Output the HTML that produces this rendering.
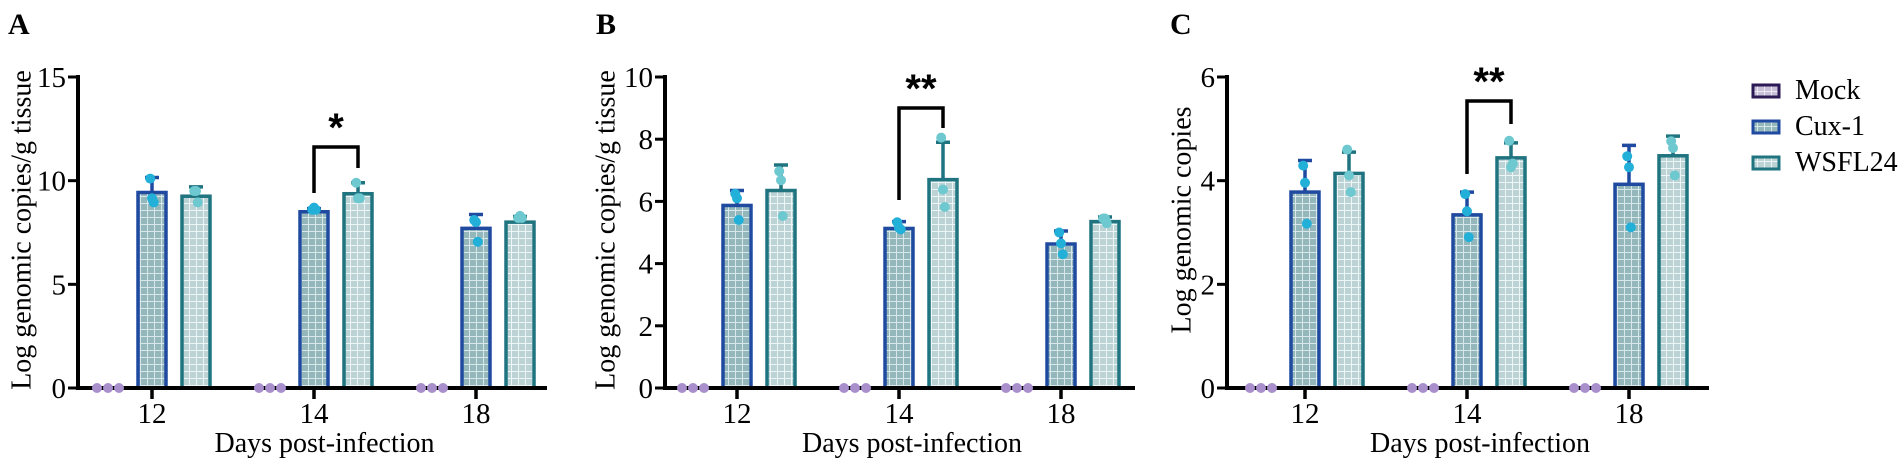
<!DOCTYPE html>
<html><head><meta charset="utf-8">
<style>
html,body{margin:0;padding:0;background:#fff;}
svg{display:block;font-family:"Liberation Serif",serif;}
</style></head>
<body>
<svg id="fig" width="1902" height="467" viewBox="0 0 1902 467" xmlns="http://www.w3.org/2000/svg">
<defs>
<pattern id="gridCux" width="7" height="7" patternUnits="userSpaceOnUse">
<rect width="7" height="7" fill="#93b7bb"/>
<path d="M0 0.5H7M0.5 0V7" stroke="#d8e8ea" stroke-width="1"/>
</pattern>
<pattern id="gridWs" width="7" height="7" patternUnits="userSpaceOnUse">
<rect width="7" height="7" fill="#bcd3d5"/>
<path d="M0 0.5H7M0.5 0V7" stroke="#eef5f6" stroke-width="1"/>
</pattern>
<pattern id="gridMock" width="7" height="7" patternUnits="userSpaceOnUse">
<rect width="7" height="7" fill="#c8c0d8"/>
<path d="M0 0.5H7M0.5 0V7" stroke="#eeeaf4" stroke-width="1"/>
</pattern>
</defs>
<g id="panels"></g>
<g>
<g>
<rect x="1753" y="85" width="26" height="12" fill="url(#gridMock)" stroke="#2b1a55" stroke-width="3"/>
<text x="1795" y="99" font-size="28">Mock</text></g>
<g>
<rect x="1753" y="121" width="26" height="12" fill="url(#gridCux)" stroke="#1f4aa0" stroke-width="3"/>
<text x="1795" y="135" font-size="28">Cux-1</text></g>
<g>
<rect x="1753" y="157" width="26" height="12" fill="url(#gridWs)" stroke="#1f7480" stroke-width="3"/>
<text x="1795" y="171" font-size="28">WSFL24</text></g>
</g>
</svg>
<script>
const categories = ["12","14","18"];
// Panel A
const aCuxMean = [9.43, 8.5, 7.7];
const aCuxErr = [10.15, 8.65, 8.37];
const aCuxPts = [[10.1, 9.15, 8.95],[8.6, 8.7, 8.6],[8.1, 8.0, 7.05]];
const aWsMean = [9.25, 9.37, 8.0];
const aWsErr = [9.7, 9.9, 8.27];
const aWsPts = [[9.5, 9.5, 8.95],[9.9, 9.15, 9.15],[8.2, 8.3, 8.2]];
const aTicks = [0, 5, 10, 15];
// Panel B
const bCuxMean = [5.87, 5.13, 4.63];
const bCuxErr = [6.35, 5.35, 5.05];
const bCuxPts = [[6.25, 6.1, 5.4],[5.33, 5.15, 5.1],[5.0, 4.65, 4.3]];
const bWsMean = [6.35, 6.7, 5.35];
const bWsErr = [7.17, 7.9, 5.5];
const bWsPts = [[6.97, 6.68, 5.53],[8.05, 6.38, 5.82],[5.45, 5.45, 5.3]];
const bTicks = [0, 2, 4, 6, 8, 10];
// Panel C
const cCuxMean = [3.78, 3.34, 3.93];
const cCuxErr = [4.39, 3.78, 4.68];
const cCuxPts = [[4.29, 3.96, 3.17],[3.74, 3.41, 2.91],[4.47, 4.26, 3.1]];
const cWsMean = [4.14, 4.44, 4.48];
const cWsErr = [4.55, 4.73, 4.86];
const cWsPts = [[4.6, 4.1, 3.78],[4.77, 4.26, 4.33],[4.76, 4.63, 4.1]];
const cTicks = [0, 2, 4, 6];
const mockVals = [0, 0, 0];

const NS = "http://www.w3.org/2000/svg";
function mk(tag, attrs, parent){const e=document.createElementNS(NS,tag);for(const k in attrs)e.setAttribute(k,attrs[k]);parent.appendChild(e);return e;}

const panels = [
 {id:"a",label:"A",lx:8,ax:78,x0:152,end:547,ymax:15,ticks:aTicks,title:"Log genomic copies/g tissue",tx:22,ty:230,
  cm:aCuxMean,ce:aCuxErr,cp:aCuxPts,wm:aWsMean,we:aWsErr,wp:aWsPts,sig:"*",bt:147,bl:193,br:168},
 {id:"b",label:"B",lx:596,ax:665,x0:737,end:1135,ymax:10,ticks:bTicks,title:"Log genomic copies/g tissue",tx:606,ty:230,
  cm:bCuxMean,ce:bCuxErr,cp:bCuxPts,wm:bWsMean,we:bWsErr,wp:bWsPts,sig:"**",bt:108,bl:200,br:128},
 {id:"c",label:"C",lx:1170,ax:1227,x0:1305,end:1709,ymax:6,ticks:cTicks,title:"Log genomic copies",tx:1182,ty:220,
  cm:cCuxMean,ce:cCuxErr,cp:cCuxPts,wm:cWsMean,we:cWsErr,wp:cWsPts,sig:"**",bt:101,bl:174,br:124}
];
const Y0=388, YTOP=77, STEP=162, OFF=44, BW=28;
const root=document.getElementById("panels");
panels.forEach(p=>{
 const g=mk("g",{},root);
 
 
 const y=v=>Y0-(v/p.ymax)*(Y0-YTOP);
 const xc=i=>p.x0+i*STEP;
 const lab=mk("text",{x:p.lx,y:34,"font-size":30,"font-weight":"bold"},g);lab.textContent=p.label;
 
 
 // bars
 const series=[{m:p.cm,e:p.ce,pts:p.cp,off:0,fill:"url(#gridCux)",st:"#1f4aa0",dot:"#22b0d8",n:"cux1"},
               {m:p.wm,e:p.we,pts:p.wp,off:OFF,fill:"url(#gridWs)",st:"#1f7480",dot:"#6ec8d0",n:"wsfl24"}];
 series.forEach(s=>{
  categories.forEach((c,i)=>{
   const cx=xc(i)+s.off;
   const eb=mk("path",{d:`M${cx} ${y(s.m[i])}V${y(s.e[i])}M${cx-7} ${y(s.e[i])}H${cx+7}`,stroke:s.st,"stroke-width":3.5,fill:"none"},g);
   
   
   const r=mk("rect",{x:cx-BW/2,y:y(s.m[i]),width:BW,height:Y0-y(s.m[i]),fill:s.fill,stroke:s.st,"stroke-width":3.5},g);
   
   
   const ox=[-6,0,6];
   s.pts[i].forEach((v,k)=>{
    const d=mk("circle",{cx:cx+ox[k]*0.3,cy:y(v),r:5,fill:s.dot},g);
    
    
   });
  });
 });
 // axes
 const ya=mk("line",{x1:p.ax,y1:YTOP-2,x2:p.ax,y2:Y0+2,stroke:"#000","stroke-width":4},g);
 
 
 const xa=mk("line",{x1:p.ax-2,y1:Y0,x2:p.end,y2:Y0,stroke:"#000","stroke-width":4},g);
 
 
 p.ticks.forEach(t=>{
  mk("line",{x1:p.ax-10,y1:y(t),x2:p.ax,y2:y(t),stroke:"#000","stroke-width":3},g);
  const tl=mk("text",{x:p.ax-12,y:y(t)+10,"font-size":29,"text-anchor":"end"},g);tl.textContent=t;
  
  
 });
 categories.forEach((c,i)=>{
  mk("line",{x1:xc(i),y1:Y0,x2:xc(i),y2:Y0+11,stroke:"#000","stroke-width":3.5},g);
  const tl=mk("text",{x:xc(i),y:423,"font-size":29,"text-anchor":"middle"},g);tl.textContent=c;
  
  
  mockVals.forEach((v,k)=>{
   const d=mk("circle",{cx:xc(i)-OFF+(k-1)*11,cy:y(v),r:5,fill:"#a98fcc"},g);
   
   
  });
 });
 const xt=mk("text",{x:(p.ax+p.end)/2+12,y:452,"font-size":28,"text-anchor":"middle"},g);xt.textContent="Days post-infection";
 
 
 const yt=mk("text",{x:p.tx,y:p.ty,"font-size":28,"text-anchor":"middle",transform:`rotate(-90 ${p.tx} ${p.ty})`,"dominant-baseline":"central"},g);yt.textContent=p.title;
 
 
 // significance bracket
 const l=xc(1), rr=xc(1)+OFF;
 const br=mk("path",{d:`M${l} ${p.bl}V${p.bt}H${rr}V${p.br}`,stroke:"#000","stroke-width":3.5,fill:"none"},g);
 
 
 const st=mk("text",{x:(l+rr)/2,y:p.bt-6,"font-size":40,"font-weight":"bold","text-anchor":"middle","font-family":"Liberation Sans, sans-serif"},g);st.textContent=p.sig;
 
 
});
</script>
</body></html>
